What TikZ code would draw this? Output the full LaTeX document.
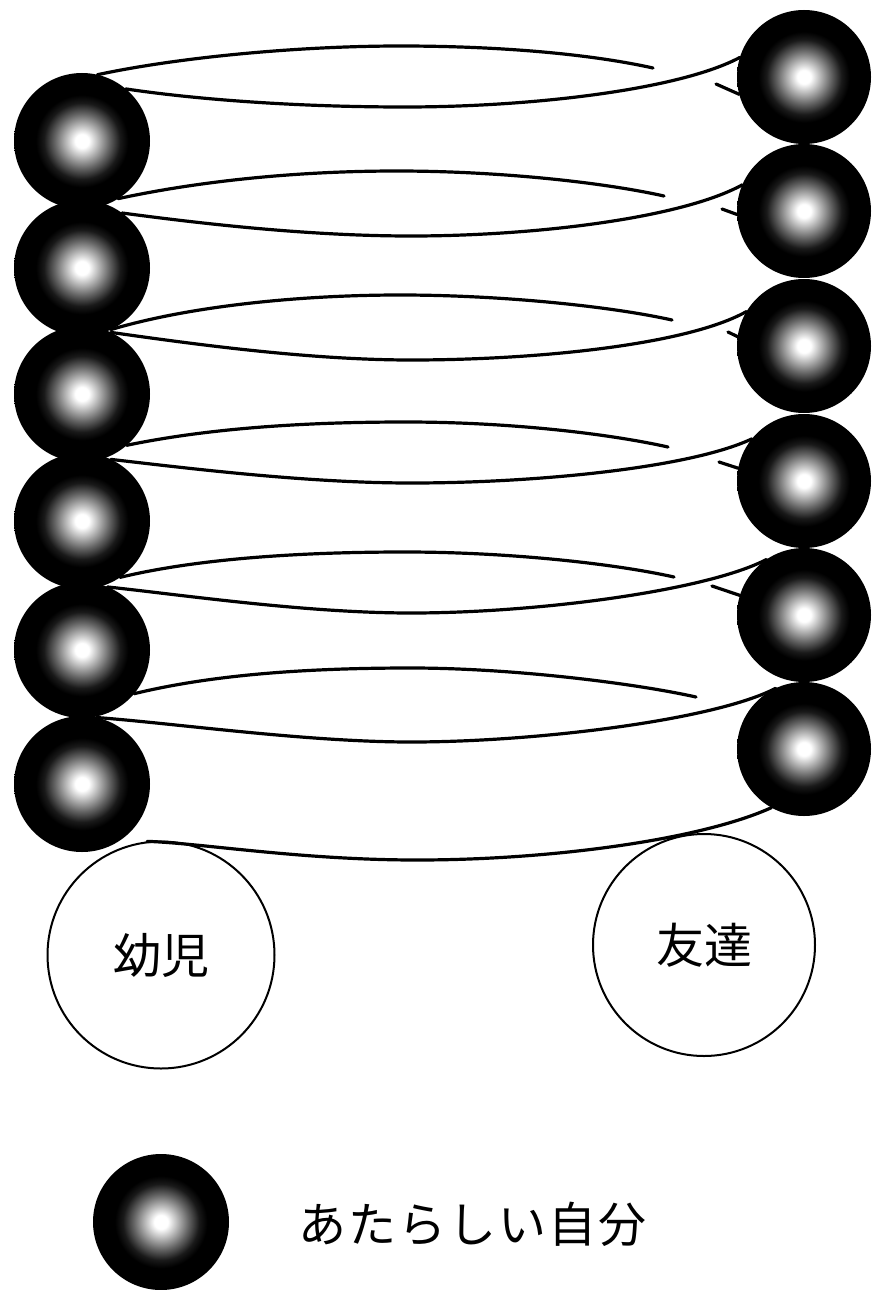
\documentclass[tikz,border=0pt]{standalone}
\usepackage{fontspec}
\newfontfamily\jpfont{Noto Sans CJK JP}
\pgfdeclareradialshading{glow}{\pgfpoint{0bp}{0bp}}{color(0bp)=(white); color(2.5bp)=(white); color(6bp)=(black!28); color(10bp)=(black!60); color(14bp)=(black!90); color(17bp)=(black); color(50bp)=(black)}
\begin{document}
\begin{tikzpicture}[x=1pt,y=-1pt,
  ballL/.style={circle, inner sep=0pt, outer sep=0pt, minimum size=136pt, shade, shading=glow},
  ballR/.style={circle, inner sep=0pt, outer sep=0pt, minimum size=134pt, shade, shading=glow},
  person/.style={circle, draw, line width=2pt, inner sep=0pt, font=\jpfont\fontsize{48}{52}\selectfont},
  rope/.style={line width=3.2pt, line cap=round}
]
\useasboundingbox (0,0) rectangle (871,1290);
% left balls
\node[ballL] (L1) at (82,141) {};
\node[ballL] (L2) at (82,268) {};
\node[ballL] (L3) at (82,394) {};
\node[ballL] (L4) at (82,521) {};
\node[ballL] (L5) at (82,650) {};
\node[ballL] (L6) at (82,784) {};
% right balls
\node[ballR] (R1) at (804,77) {};
\node[ballR] (R2) at (804,211) {};
\node[ballR] (R3) at (804,346) {};
\node[ballR] (R4) at (804,481) {};
\node[ballR] (R5) at (804,615) {};
\node[ballR] (R6) at (804,749) {};
% persons
\node[person, minimum size=227pt] (Y) at (161,955) {幼児};
\node[person, minimum size=222pt] (F) at (704,945) {友達};
% free ends
\coordinate (e1) at (653,68);  \coordinate (s1) at (716,84);
\coordinate (e2) at (664,196); \coordinate (s2) at (722,209);
\coordinate (e3) at (672,320); \coordinate (s3) at (728,332);
\coordinate (e4) at (668,447); \coordinate (s4) at (719,462);
\coordinate (e5) at (674,577); \coordinate (s5) at (712,586);
\coordinate (e6) at (696,697);
% loop 1
\draw[rope] (L1.77) .. controls (180,57) and (300,46) .. (400,46) .. controls (500,46) and (590,54) .. (e1);
\draw[rope] (L1.50) .. controls (200,100) and (300,107) .. (405,107) .. controls (530,107) and (679,90) .. (R1.163);
\draw[rope] (s1) -- (R1.195);
% loop 2
\draw[rope] (L1.-58) .. controls (200,181) and (297,171) .. (397,171) .. controls (497,171) and (601,182) .. (e2);
\draw[rope] (L2.54) .. controls (197,223) and (306,236) .. (411,236) .. controls (536,236) and (682,218) .. (R2.157);
\draw[rope] (s2) -- (R2.183);
% loop 3
\draw[rope] (L2.-65) .. controls (190,306) and (300,295) .. (400,295) .. controls (500,295) and (609,306) .. (e3);
\draw[rope] (L3.65) .. controls (186,343) and (306,360) .. (411,360) .. controls (536,360) and (687,345) .. (R3.149);
\draw[rope] (s3) -- (R3.172);
% loop 4
\draw[rope] (L3.-49) .. controls (210,428) and (306,422) .. (406,422) .. controls (506,422) and (605,433) .. (e4);
\draw[rope] (L4.65) .. controls (186,468) and (306,483) .. (411,483) .. controls (536,483) and (690,468) .. (R4.141);
\draw[rope] (s4) -- (R4.169);
% loop 5
\draw[rope] (L4.-56) .. controls (200,558) and (305,552) .. (405,552) .. controls (505,552) and (611,563) .. (e5);
\draw[rope] (L5.68) .. controls (183,595) and (306,613) .. (411,613) .. controls (536,613) and (706,591) .. (R5.124);
\draw[rope] (s5) -- (R5.163);
% loop 6
\draw[rope] (L5.-40) .. controls (215,674) and (311,668) .. (411,668) .. controls (511,668) and (633,683) .. (e6);
\draw[rope] (L6.78) .. controls (172,723) and (306,742) .. (411,742) .. controls (536,742) and (715,720) .. (R6.115);
% bottom line
\draw[rope] (Y.97) .. controls (200,843) and (300,860) .. (417,860) .. controls (550,860) and (700,840) .. (R6.241);
% legend
\node[ballL] (key) at (161,1222) {};
\node[anchor=west, inner sep=0pt, font=\jpfont\fontsize{48}{52}\selectfont] (keytext) at (298,1224) {あ\kern2pt た\kern2pt ら\kern2pt し\kern2pt い\kern2pt 自\kern2pt 分};
\end{tikzpicture}
\end{document}
